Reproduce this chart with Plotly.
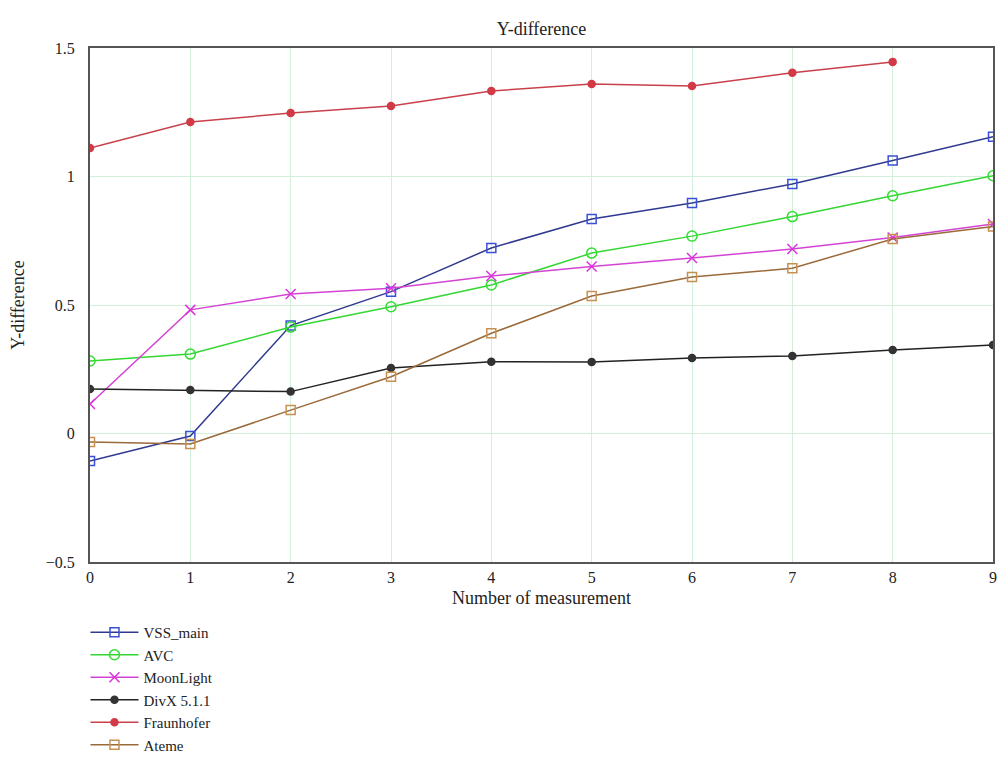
import plotly.graph_objects as go

# Measurement index on the horizontal axis
measurements = [0, 1, 2, 3, 4, 5, 6, 7, 8, 9]

# Y-difference per codec
vss_main = [-0.107, -0.010, 0.420, 0.552, 0.722, 0.835, 0.897, 0.971, 1.062, 1.155]
avc = [0.282, 0.309, 0.414, 0.493, 0.578, 0.702, 0.768, 0.844, 0.925, 1.003]
moonlight = [0.115, 0.481, 0.543, 0.565, 0.613, 0.650, 0.683, 0.718, 0.763, 0.815]
divx = [0.173, 0.169, 0.163, 0.255, 0.279, 0.278, 0.294, 0.302, 0.325, 0.344]
fraunhofer = [1.111, 1.212, 1.247, 1.274, 1.333, 1.360, 1.352, 1.404, 1.446]
ateme = [-0.033, -0.041, 0.091, 0.221, 0.390, 0.535, 0.609, 0.643, 0.757, 0.805]

y_ticks = [-0.5, 0, 0.5, 1, 1.5]
y_tick_text = ["\u22120.5", "0", "0.5", "1", "1.5"]

FONT = "Liberation Serif, Times New Roman, serif"
TEXT = "#222222"

series = [
    ("VSS_main", vss_main, "#2f3a8f", "#3b4fd8", "square-open", 9),
    ("AVC", avc, "#33d633", "#33dd33", "circle-open", 10),
    ("MoonLight", moonlight, "#d444d4", "#dd33dd", "x-thin-open", 10),
    ("DivX 5.1.1", divx, "#222222", "#333333", "circle", 7),
    ("Fraunhofer", fraunhofer, "#c8404a", "#d23a48", "circle", 7),
    ("Ateme", ateme, "#9a6a3a", "#c89050", "square-open", 9),
]

fig = go.Figure()
for name, values, line_col, marker_col, symbol, size in series:
    fig.add_trace(go.Scatter(
        x=measurements[:len(values)],
        y=values,
        mode="lines+markers",
        name=name,
        line=dict(color=line_col, width=1.5),
        marker=dict(symbol=symbol, size=size, color=marker_col,
                    line=dict(color=marker_col, width=1.5)),
    ))

fig.update_layout(
    width=998,
    height=767,
    paper_bgcolor="white",
    plot_bgcolor="white",
    margin=dict(l=90, r=5, t=48, b=205, autoexpand=False),
    font=dict(family=FONT, size=15, color=TEXT),
    title=dict(text="Y-difference", x=0.5, xref="paper", xanchor="center",
               y=0.962, yanchor="middle",
               font=dict(family=FONT, size=18, color=TEXT)),
    showlegend=True,
    legend=dict(x=-0.005, y=-0.105, xanchor="left", yanchor="top",
                bgcolor="rgba(0,0,0,0)",
                font=dict(family=FONT, size=15, color=TEXT),
                tracegroupgap=0, itemwidth=48),
)

fig.update_xaxes(
    range=[0, 9],
    tickvals=measurements,
    showgrid=True, gridcolor="#d3eedb", gridwidth=1,
    zeroline=False,
    showline=True, linecolor="#555555", linewidth=2, mirror=True,
    ticks="", tickfont=dict(family=FONT, size=16, color=TEXT),
    title=dict(text="Number of measurement", standoff=6,
               font=dict(family=FONT, size=18, color=TEXT)),
)
fig.update_yaxes(
    range=[-0.5, 1.5],
    tickvals=y_ticks, ticktext=y_tick_text,
    showgrid=True, gridcolor="#d3eedb", gridwidth=1,
    zeroline=False,
    showline=True, linecolor="#555555", linewidth=2, mirror=True,
    ticks="", ticklabelstandoff=10,
    tickfont=dict(family=FONT, size=16, color=TEXT),
    title=dict(text="Y-difference", standoff=16,
               font=dict(family=FONT, size=18, color=TEXT)),
)

fig.write_html("out.html")
